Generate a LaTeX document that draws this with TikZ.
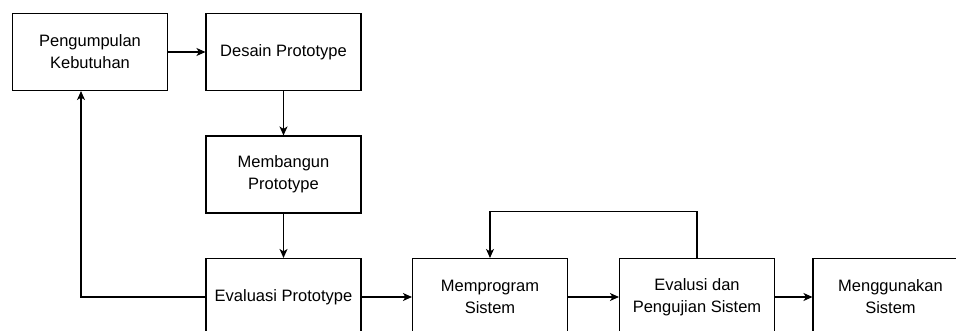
\documentclass[tikz,border=0pt]{standalone}
\usepackage{fontspec}
\setmainfont{Liberation Sans}
\usetikzlibrary{arrows.meta}

\begin{document}
\begin{tikzpicture}[->,>={Stealth[length=9pt,width=8pt,inset=2.5pt]},auto,node distance=122.5pt,x=1pt,y=1pt,
  line width=1.1pt,main node/.style={rectangle,draw,minimum width=155pt,minimum height=77pt,
  align=center,font=\fontsize{16.5}{22}\selectfont}]

  \useasboundingbox (0,0) rectangle (956,-331);
  \clip (0,0) rectangle (956,-331);

  \node[main node] (1) at (90,-52) {Pengumpulan\\Kebutuhan};
  \node[main node] (2) [node distance=193.5pt,right of=1] {Desain Prototype};
  \node[main node] (3) [below of=2] {Membangun\\Prototype};
  \node[main node] (4) [below of=3] {Evaluasi Prototype};
  \node[main node] (5) [node distance=206.5pt,right of=4] {Memprogram\\Sistem};
  \node[main node] (6) [node distance=207pt,right of=5] {Evalusi dan\\Pengujian Sistem};
  \node[main node] (7) [node distance=193.5pt,right of=6] {Menggunakan\\Sistem};

  \path
    (1) edge (2)
    (2) edge (3)
    (3) edge (4)
    (4) edge (5)
    (5) edge (6)
    (6) edge (7);
  \draw (4.west) -| ([xshift=-9pt]1.south);
  \draw (6.north) -- ++(0,46) -| (5.north);
\end{tikzpicture}
\end{document}
